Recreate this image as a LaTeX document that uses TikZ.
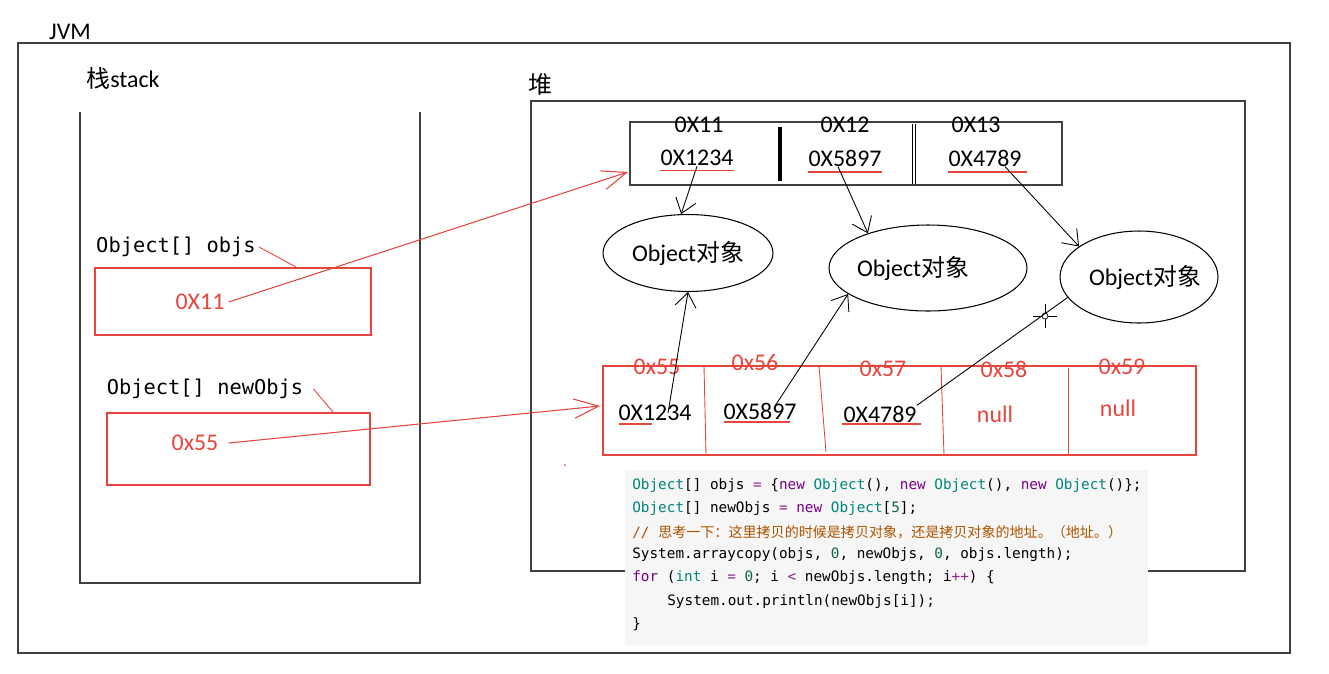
\documentclass[tikz,border=0pt]{standalone}
\usepackage{fontspec}
\setmainfont{Carlito}
\setmonofont{DejaVu Sans Mono}
\newfontfamily\cjk{Noto Sans CJK SC}
\usetikzlibrary{arrows.meta,shapes.geometric}
\definecolor{jred}{rgb}{0.90,0.27,0.24}
\definecolor{ctype}{rgb}{0,0.53,0.49}
\definecolor{ckey}{rgb}{0.47,0,0.53}
\definecolor{cop}{rgb}{0.55,0.15,0.55}
\definecolor{cnum}{rgb}{0.07,0.40,0.27}
\definecolor{ccom}{rgb}{0.67,0.33,0}
\definecolor{codebg}{rgb}{0.965,0.965,0.965}
\tikzstyle{txt}=[inner sep=0pt,font=\fontsize{13.6}{16}\selectfont]
\tikzstyle{mono}=[inner sep=0pt,font=\ttfamily\fontsize{11.6}{14}\selectfont]
\tikzstyle{code}=[inner sep=0pt,anchor=west,font=\ttfamily\fontsize{8.16}{10}\selectfont]
\tikzstyle{obj}=[draw,ellipse,line width=0.6pt,inner sep=0pt]
\tikzstyle{ptr}=[-{Straight Barb[length=8pt,width=12pt]},line width=0.5pt]
\tikzstyle{rptr}=[-{Straight Barb[length=14pt,width=11pt]},jred,line width=0.6pt]

\begin{document}
\begin{tikzpicture}[x=0.02cm,y=-0.02cm]
\useasboundingbox (0,0) rectangle (1329,673);
% JVM and its two parts
\draw[line width=0.8pt,black!75] (18,43) rectangle (1290,653);
\node[txt] (jvm) at (70,32) {JVM};
\node[txt] (stackL) at (123,78) {{\cjk 栈}stack};
\node[txt] (heapL) at (540,84) {\cjk 堆};
\draw[line width=0.8pt,black!75] (80,112) -- (80,583) -- (420,583) -- (420,112);
\draw[line width=0.8pt,black!75] (531,101) rectangle (1245,571);
% stack variables
\node[mono] (objsL) at (176,247) {Object[] objs};
\node[mono] (nObjsL) at (205,389) {Object[] newObjs};
\draw[jred,line width=0.5pt] ([xshift=0.06cm]objsL.east) -- (296,267);
\draw[jred,line width=0.5pt] ([xshift=0.2cm]nObjsL.east) -- (333,412);
\draw[jred,line width=0.7pt] (95,268) rectangle (371,335);
\draw[jred,line width=0.7pt] (107,413) rectangle (370,485);
\node[txt,jred] (v11) at (200,302) {0X11};
\node[txt,jred] (v55) at (195,443) {0x55};
% array objs
\draw[line width=0.8pt,black!75] (630,122) rectangle (1062,185);
\draw[line width=1.8pt] (780,127) -- (780,181);
\draw[line width=0.5pt] (912,124) -- (912,184) (915,124) -- (915,184);
\node[txt] (a11) at (699,125) {0X11};
\node[txt] (a12) at (845,125) {0X12};
\node[txt] (a13) at (976,125) {0X13};
\node[txt] (h1) at (697,158) {0X1234};
\node[txt] (h2) at (845,158) {0X5897};
\node[txt] (h3) at (985,158) {0X4789};
\draw[jred,line width=0.8pt] ([yshift=-2.5pt]h1.south west) -- ([yshift=-2.5pt]h1.south east);
\draw[jred,line width=0.8pt] ([yshift=-3pt]h2.south west) -- ([yshift=-3pt]h2.south east);
\draw[jred,line width=0.8pt] ([yshift=-3pt]h3.south west) -- ([yshift=-3pt,xshift=0.1cm]h3.south east);
% objects
\node[obj,minimum width=3.4cm,minimum height=1.54cm] (o1) at (688,253) {};
\node[obj,minimum width=3.96cm,minimum height=1.72cm] (o2) at (928,268) {};
\node[obj,minimum width=3.16cm,minimum height=1.84cm] (o3) at (1139,277) {};
\node[txt] (t1) at (688,253) {Object{\cjk 对象}};
\node[txt] (t2) at (913,268) {Object{\cjk 对象}};
\node[txt] (t3) at (1145,277) {Object{\cjk 对象}};
% array newObjs
\draw[jred,line width=0.8pt] (603,366) rectangle (1196,455);
\draw[jred,line width=0.5pt] (704,366) -- (706,455);
\draw[jred,line width=0.5pt] (819,366) -- (826,452);
\draw[jred,line width=0.5pt] (941,366) -- (944,455);
\draw[jred,line width=0.5pt] (1068,368) -- (1068,455);
\node[txt,jred] (b55) at (657,367) {0x55};
\node[txt,jred] (b56) at (755,363) {0x56};
\node[txt,jred] (b57) at (883,369) {0x57};
\node[txt,jred] (b58) at (1004,369) {0x58};
\node[txt,jred] (b59) at (1122,367) {0x59};
\node[txt] (l1) at (655,413) {0X1234};
\node[txt] (l2) at (760,411) {0X5897};
\node[txt] (l3) at (880,414) {0X4789};
\node[txt,jred] (n4) at (995,414) {null};
\node[txt,jred] (n5) at (1118,408) {null};
\draw[jred,line width=0.7pt] (619,424) -- (652,424);
\draw[jred,line width=0.7pt] (724,422) -- (790,422);
\draw[jred,line width=0.7pt] (842,424) -- (921,424);
% references
\coordinate (topIn) at (628,172);
\coordinate (botIn) at (600,406);
\draw[rptr] ([xshift=0.08cm]v11.east) -- (topIn);
\draw[rptr] ([xshift=0.2cm]v55.east) -- (botIn);
\draw[ptr] (h1.south) -- (o1.100);
\draw[ptr] ([xshift=-0.14cm]h2.south) -- (o2.150);
\draw[ptr] ([xshift=0.4cm]h3.south) -- (o3.153);
\draw[ptr] ([xshift=0.26cm]l1.center) -- (o1.south);
\draw[ptr] ([xshift=0.3cm,yshift=0.1cm]l2.center) -- (o2.198);
\draw[line width=0.5pt] (l3.north east) -- (o3.196);
\draw[line width=0.4pt] (1045,316) circle (0.06cm);
\draw[line width=0.4pt] (1033,316) -- (1042,316) (1048,316) -- (1057,316)
  (1045,304) -- (1045,313) (1045,319) -- (1045,328);
\fill[jred] (565,465) circle (0.02cm);
% code
\fill[codebg] (625,470) rectangle (1148,645);
\node[code] (c1) at (632,486) {{\color{ctype}Object}[] objs {\color{cop}=} \{{\color{ckey}new} {\color{ctype}Object}(), {\color{ckey}new} {\color{ctype}Object}(), {\color{ckey}new} {\color{ctype}Object}()\};};
\node[code] (c2) at (632,509) {{\color{ctype}Object}[] newObjs {\color{cop}=} {\color{ckey}new} {\color{ctype}Object}[{\color{cnum}5}];};
\node[code] (c3) at (632,532) {\color{ccom}// {\cjk\fontsize{8}{10}\selectfont 思考一下：这里拷贝的时候是拷贝对象，还是拷贝对象的地址。（地址。）}};
\node[code] (c4) at (632,555) {System.arraycopy(objs, {\color{cnum}0}, newObjs, {\color{cnum}0}, objs.length);};
\node[code] (c5) at (632,578) {{\color{ckey}for} ({\color{ctype}int} i {\color{cop}=} {\color{cnum}0}; i {\color{cop}<} newObjs.length; i{\color{cop}++}) \{};
\node[code] (c6) at (667,601) {System.out.println(newObjs[i]);};
\node[code] (c7) at (632,624) {\}};
\end{tikzpicture}
\end{document}
